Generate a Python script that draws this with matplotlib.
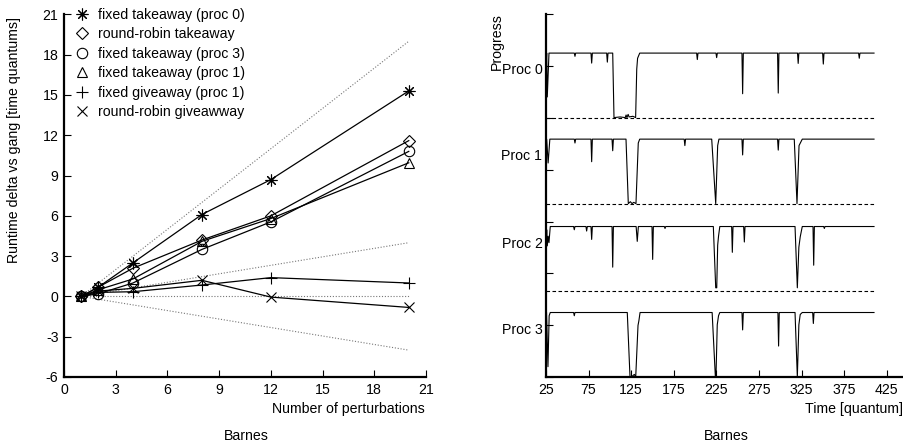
import matplotlib
matplotlib.use("Agg")
import matplotlib.pyplot as plt
import matplotlib.transforms as mtransforms
from matplotlib.lines import Line2D

plt.rcParams['font.family'] = ['Liberation Sans', 'DejaVu Sans']
plt.rcParams['axes.unicode_minus'] = False
FS = 10.2
plt.rcParams['font.size'] = FS

# ---------------- Left chart data ----------------
perturbations = [1, 2, 4, 8, 12, 20]
fixed_take_p0 = [0, 0.7, 2.5, 6.1, 8.7, 15.3]
rr_take = [0, 0.7, 2.1, 4.2, 6.0, 11.6]
fixed_take_p3 = [0, 0.2, 1.0, 3.5, 5.55, 10.8]
fixed_take_p1 = [0, 0.5, 1.3, 4.1, 5.8, 9.95]
fixed_give_p1 = [0, 0.3, 0.35, 0.85, 1.4, 1.0]
rr_give = [0, 0.4, 0.6, 1.2, -0.05, -0.82]

series_labels = ["fixed takeaway (proc 0)", "round-robin takeaway",
                 "fixed takeaway (proc 3)", "fixed takeaway (proc 1)",
                 "fixed giveaway (proc 1)", "round-robin giveawway"]

ref_x = [1, 20]
ref_lines = [[0, 19], [0, 4], [0, 0], [0, -4]]

left_xticks = [0, 3, 6, 9, 12, 15, 18, 21]
left_yticks = [-6, -3, 0, 3, 6, 9, 12, 15, 18, 21]

# ---------------- Right chart data (progress, 1 = full) ----------------
proc_names = ["Proc 0", "Proc 1", "Proc 2", "Proc 3"]

t0 = [25, 25.8, 26.5, 28.5, 58.2, 59, 59.8, 77.8, 78.6, 79.4, 96.2, 97, 97.8,
      103.3, 104.8, 112, 118, 119, 120, 121.4, 122.5, 127, 130.2, 131.5, 132.5, 135,
      201.8, 202.6, 203.4, 224.5, 225.3, 226.1, 255, 255.8, 256.6, 296.8, 297.6, 298.4,
      320.2, 321, 321.8, 349.7, 350.5, 351.3, 391.9, 392.7, 393.5, 410]
v0 = [0.8, 1.0, 0.32, 1.0, 1.0, 0.95, 1.0, 1.0, 0.845, 1.0, 1.0, 0.86, 1.0,
      1.0, 0.0, 0.01, 0.0, 0.04, 0.0, 0.05, 0.01, 0.02, 0.0, 0.75, 0.92, 1.0,
      1.0, 0.9, 1.0, 1.0, 0.93, 1.0, 1.0, 0.37, 1.0, 1.0, 0.38, 1.0,
      1.0, 0.84, 1.0, 1.0, 0.83, 1.0, 1.0, 0.92, 1.0, 1.0]

t1 = [25, 25.8, 27.5, 29.5, 58.2, 59, 59.8, 77.8, 78.6, 79.4, 102.5, 103.3, 104.1,
      118.9, 121.6, 124, 126, 128, 130.6, 133.3, 135, 187.2, 188, 188.8,
      219.5, 224.2, 226.5, 228, 255, 255.8, 256.6, 296.8, 297.6, 298.4,
      316.4, 319.6, 322, 325.8, 410]
v1 = [0.83, 1.0, 0.63, 1.0, 1.0, 0.94, 1.0, 1.0, 0.65, 1.0, 1.0, 0.82, 1.0,
      1.0, 0.0, 0.03, 0.0, 0.02, 0.0, 0.94, 1.0, 1.0, 0.9, 1.0,
      1.0, 0.0, 0.9, 1.0, 1.0, 0.755, 1.0, 1.0, 0.83, 1.0,
      1.0, 0.0, 0.9, 1.0, 1.0]

t2 = [25, 25.8, 26.5, 27.5, 28.5, 30, 57.4, 58.2, 59, 71.9, 72.7, 73.5, 77.8, 78.6, 79.4,
      102.5, 103.3, 104.1, 130.8, 132.1, 133.4, 149.4, 150.2, 151, 163.9, 164.7, 165.5,
      221.4, 224.2, 225.4, 226.5, 227.5, 229, 242.9, 243.7, 244.5, 257, 257.8, 258.6,
      317.3, 320.0, 321.8, 323.4, 325.8, 338.4, 339.2, 340, 350.9, 351.7, 352.5, 410]
v2 = [0.55, 0.95, 0.7, 0.85, 0.75, 1.0, 1.0, 0.95, 1.0, 1.0, 0.93, 1.0, 1.0, 0.8, 1.0,
      1.0, 0.37, 1.0, 1.0, 0.77, 1.0, 1.0, 0.49, 1.0, 1.0, 0.97, 1.0,
      1.0, 0.05, 0.05, 0.71, 0.85, 1.0, 1.0, 0.6, 1.0, 1.0, 0.76, 1.0,
      1.0, 0.05, 0.68, 0.84, 1.0, 1.0, 0.4, 1.0, 1.0, 0.97, 1.0, 1.0]

t3 = [25, 25.6, 27.3, 28.7, 30, 57.4, 58.2, 59, 120.4, 123.6, 126, 128.7, 130.3, 133, 134,
      135.4, 220, 223.8, 224.5, 226, 227.5, 229, 255, 255.8, 256.6, 297.2, 298, 298.8,
      317.3, 320, 321.8, 323.4, 325.8, 338, 338.8, 339.6, 410]
v3 = [0.82, 1.0, 0.16, 0.95, 1.0, 1.0, 0.95, 1.0, 1.0, 0.0, 0.01, 0.04, 0.0, 0.8, 0.87,
      1.0, 1.0, 0.0, 0.0, 0.81, 0.95, 1.0, 1.0, 0.73, 1.0, 1.0, 0.48, 1.0,
      1.0, 0.0, 0.81, 0.97, 1.0, 1.0, 0.83, 1.0, 1.0]

right_xticks = [25, 75, 125, 175, 225, 275, 325, 375, 425]
baseline_end = 410

# ---------------- Figure ----------------
W, H = 904, 446
fig = plt.figure(figsize=(W / 100, H / 100), dpi=100)

def px_rect(l, r, top, bottom):
    return [l / W, 1 - bottom / H, (r - l) / W, (bottom - top) / H]

# Left axes
ax1 = fig.add_axes(px_rect(64, 426, 14.4, 377))
ax1.set_xlim(0, 21)
ax1.set_ylim(-6, 21)

for ry in ref_lines:
    ax1.plot(ref_x, ry, color='#777777', lw=0.8, ls=(0, (1, 1.6)), zorder=1)

styles = [
    dict(marker=(8, 2, 0), ms=8.5),
    dict(marker='D', ms=6),
    dict(marker='o', ms=7.5),
    dict(marker='^', ms=7),
    dict(marker='+', ms=8.5),
    dict(marker='x', ms=7.5),
]
series = [fixed_take_p0, rr_take, fixed_take_p3, fixed_take_p1, fixed_give_p1, rr_give]
handles = []
for ys, st in zip(series, styles):
    ax1.plot(perturbations, ys, color='black', lw=0.9, marker=st['marker'], ms=st['ms'],
             mfc='none', mec='black', mew=0.8, zorder=3)
    handles.append(Line2D([], [], ls='none', marker=st['marker'], ms=st['ms'],
                          mfc='none', mec='black', mew=0.8))

ax1.set_xticks(left_xticks)
ax1.set_yticks(left_yticks)
ax1.tick_params(direction='in', length=5, width=0.8, pad=4, labelsize=FS)
for s in ['top', 'right']:
    ax1.spines[s].set_visible(False)
for s in ['left', 'bottom']:
    ax1.spines[s].set_linewidth(1.6)

ax1.legend(handles, series_labels, loc='upper left',
           bbox_to_anchor=(74.9 / W, 1 - 7.8 / H), bbox_transform=fig.transFigure,
           frameon=False, handlelength=1.0, handletextpad=0.63, labelspacing=0.39,
           borderpad=0, borderaxespad=0, fontsize=FS)

fig.text(425 / W, 1 - 409 / H, 'Number of perturbations', ha='right', va='center', fontsize=FS)
fig.text(246.5 / W, 1 - 436 / H, 'Barnes', ha='center', va='center', fontsize=FS)
fig.text(14 / W, 1 - 140 / H, 'Runtime delta vs gang [time quantums]', rotation=90,
         ha='center', va='center', fontsize=FS)

# Right axes
ax2 = fig.add_axes(px_rect(546, 904, 14.4, 377))
ax2.set_xlim(25, 445.2)
ax2.set_ylim(0, 7)
offsets = [5.008, 3.347, 1.66, 0.0]
plateau = 1.245
traces = [(t0, v0), (t1, v1), (t2, v2), (t3, v3)]
for (tt, vv), off in zip(traces, offsets):
    ax2.plot(tt, [off + v * plateau for v in vv], color='black', lw=0.8, zorder=3)
    if off > 0:
        ax2.plot([tt[0], baseline_end], [off, off], color='black', lw=0.8,
                 ls=(0, (3.2, 2.2)), zorder=2)

ax2.set_xticks(right_xticks)
ax2.set_yticks(range(0, 8))
ax2.set_yticklabels([])
ax2.tick_params(direction='in', length=5, width=0.8, pad=4, labelsize=FS)
for s in ['top', 'right']:
    ax2.spines[s].set_visible(False)
for s in ['left', 'bottom']:
    ax2.spines[s].set_linewidth(1.6)

blend = mtransforms.blended_transform_factory(fig.transFigure, ax2.transData)
for name, off in zip(proc_names, offsets):
    fig.text(542.5 / W, off + 0.91, name, transform=blend, ha='right', va='center', fontsize=FS)

fig.text(496.5 / W, 1 - 41.7 / H, 'Progress', rotation=90, ha='center', va='center', fontsize=FS)
fig.text(903.5 / W, 1 - 409 / H, 'Time [quantum]', ha='right', va='center', fontsize=FS)
fig.text(726.7 / W, 1 - 436.5 / H, 'Barnes', ha='center', va='center', fontsize=FS)

fig.savefig('out.png', dpi=100)
